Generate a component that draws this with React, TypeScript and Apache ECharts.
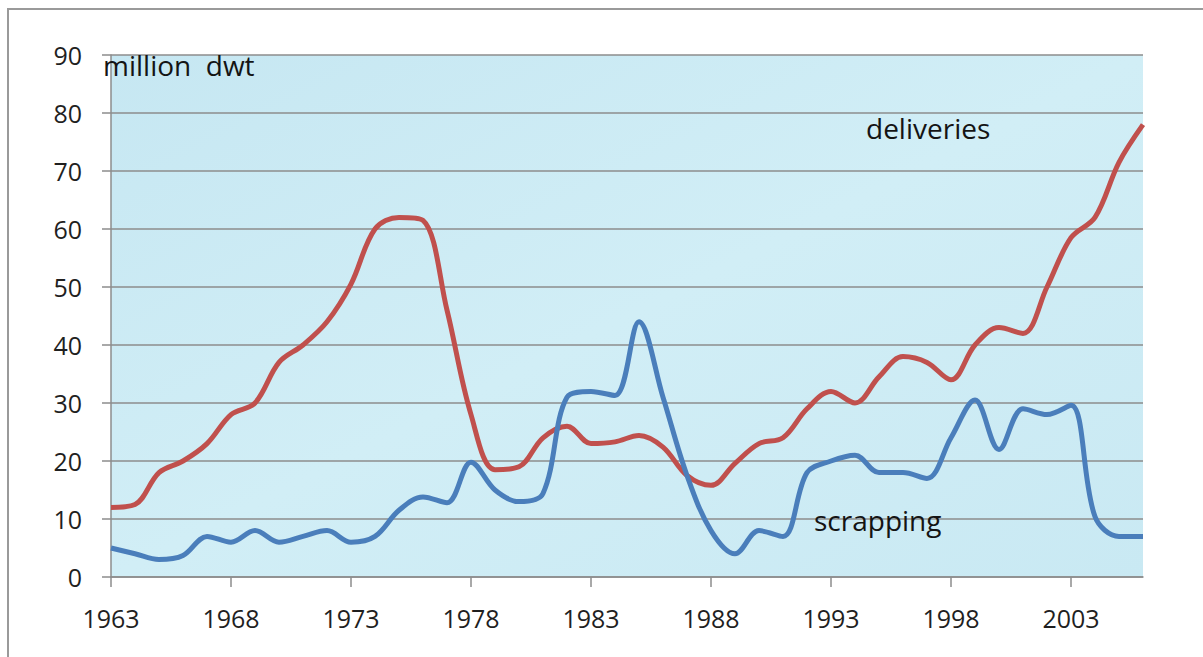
import React, { useEffect, useRef } from "react";
import * as echarts from "echarts";

const years: string[] = [];
for (let y = 1963; y <= 2006; y++) years.push(String(y));

const deliveries = [
  12, 12.5, 18, 20, 23, 28, 30, 37, 40, 44,
  50.5, 60, 62, 61.5, 46, 28, 18.5, 19, 24, 26,
  23, 23.3, 24.4, 22.4, 17.5, 15.8, 19.6, 23, 24, 29,
  32, 30, 34.5, 38, 37, 34, 40, 43, 42, 50,
  58.5, 62, 71.5, 78,
];

const scrapping = [
  5, 4, 3, 3.7, 7, 6, 8, 6, 7, 8,
  6, 7, 11.5, 13.8, 12.8, 19.8, 15, 13, 14.4, 31,
  32, 31.3, 44, 31, 17.5, 8, 4, 8, 7, 18,
  20, 21, 18, 18, 17, 24, 30.5, 22, 29, 28,
  29.6, 10.4, 7, 7,
];

const FONT = "'Open Sans', 'Liberation Sans', sans-serif";

export default function App() {
  const ref = useRef<HTMLDivElement>(null);
  useEffect(() => {
    if (!ref.current) return;
    const chart = echarts.init(ref.current, undefined, { renderer: "svg" });
    chart.setOption({
      animation: false,
      backgroundColor: "#ffffff",
      grid: {
        left: 111,
        right: 60,
        top: 55,
        bottom: 80,
        show: true,
        borderWidth: 0,
        backgroundColor: new echarts.graphic.LinearGradient(0, 0, 1, 1, [
          { offset: 0, color: "#c6e7f2" },
          { offset: 0.5, color: "#d1eef6" },
          { offset: 1, color: "#c9e9f3" },
        ]),
      },
      xAxis: {
        type: "category",
        data: years,
        boundaryGap: false,
        axisLine: { show: true, lineStyle: { color: "#8c8c8c", width: 1.5 } },
        axisTick: { show: true, interval: 4, length: 10, lineStyle: { color: "#8c8c8c", width: 1.5 } },
        axisLabel: {
          interval: 4,
          margin: 28,
          color: "#1f1f1f",
          fontSize: 25,
          fontFamily: FONT,
        },
        splitLine: { show: false },
      },
      yAxis: {
        type: "value",
        min: 0,
        max: 90,
        interval: 10,
        axisLine: { show: true, lineStyle: { color: "#8c8c8c", width: 1.5 } },
        axisTick: { show: true, length: 9, lineStyle: { color: "#8c8c8c", width: 1.5 } },
        axisLabel: {
          margin: 29,
          color: "#1f1f1f",
          fontSize: 25,
          fontFamily: FONT,
        },
        splitLine: { show: true, lineStyle: { color: "#8c8c8c", width: 1.5 } },
      },
      series: [
        {
          name: "deliveries",
          type: "line",
          data: deliveries,
          smooth: 0.35,
          symbol: "none",
          lineStyle: { color: "#c0504d", width: 5 },
          z: 3,
        },
        {
          name: "scrapping",
          type: "line",
          data: scrapping,
          smooth: 0.35,
          symbol: "none",
          lineStyle: { color: "#4a7ebb", width: 5 },
          z: 4,
        },
      ],
      graphic: [
        {
          type: "rect",
          shape: { x: 8, y: 9, width: 1400, height: 1000 },
          style: { fill: "none", stroke: "#9a9a9a", lineWidth: 2 },
          silent: true,
          z: 0,
        },
        {
          type: "text",
          x: 103,
          y: 65,
          style: {
            text: "million  dwt",
            fill: "#141414",
            font: `28px ${FONT}`,
            textAlign: "left",
            textVerticalAlign: "middle",
          },
          z: 10,
        },
        {
          type: "text",
          x: 866,
          y: 128,
          style: {
            text: "deliveries",
            fill: "#141414",
            font: `28px ${FONT}`,
            textAlign: "left",
            textVerticalAlign: "middle",
          },
          z: 10,
        },
        {
          type: "text",
          x: 814,
          y: 520,
          style: {
            text: "scrapping",
            fill: "#141414",
            font: `28px ${FONT}`,
            textAlign: "left",
            textVerticalAlign: "middle",
          },
          z: 10,
        },
      ],
    });
    return () => chart.dispose();
  }, []);
  return (
    <div
      ref={ref}
      style={{ position: "fixed", left: 0, top: 0, width: 1203, height: 657 }}
    />
  );
}
